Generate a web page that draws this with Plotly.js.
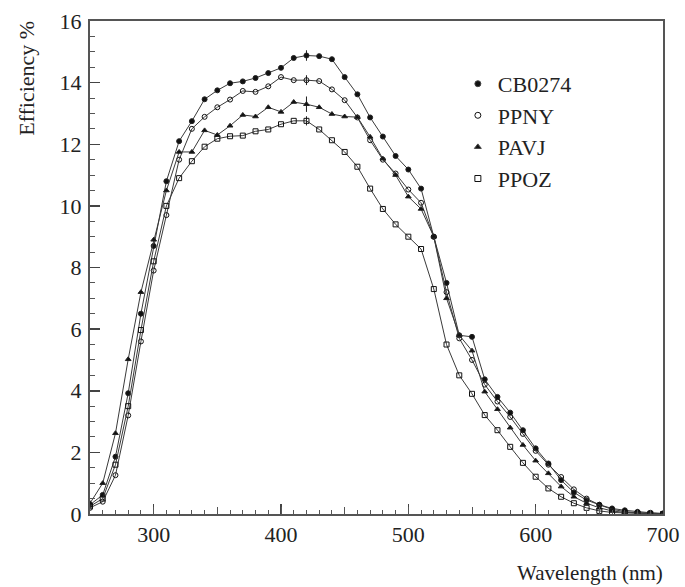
<!DOCTYPE html>
<html>
<head>
<meta charset="utf-8">
<script src="https://cdn.plot.ly/plotly-3.0.1.min.js"></script>
<style>html,body{margin:0;padding:0;background:#fff;}#chart{width:685px;height:587px;}</style>
</head>
<body>
<div id="chart"></div>
<script>
const wavelength = [250,260,270,280,290,300,310,320,330,340,350,360,370,380,390,400,410,420,430,440,450,460,470,480,490,500,510,520,530,540,550,560,570,580,590,600,610,620,630,640,650,660,670,680,690,700];
const seriesNames = ["CB0274","PPNY","PAVJ","PPOZ"];
const cb0274 = [0.3,0.62,1.86,3.92,6.5,8.7,10.8,12.1,12.75,13.46,13.75,13.98,14.04,14.15,14.31,14.48,14.8,14.88,14.86,14.76,14.18,13.62,12.87,12.25,11.62,11.18,10.56,9.0,7.5,5.8,5.75,4.37,3.8,3.29,2.72,2.13,1.64,1.1,0.7,0.45,0.3,0.18,0.12,0.07,0.04,0.02];
const ppny = [0.2,0.4,1.26,3.2,5.6,7.9,9.7,11.5,12.5,12.89,13.2,13.45,13.73,13.7,13.88,14.18,14.08,14.08,14.05,13.78,13.43,12.87,12.13,11.5,11.05,10.53,10.1,9.0,7.2,5.7,5.0,4.2,3.65,3.15,2.6,2.05,1.6,1.2,0.8,0.5,0.3,0.15,0.08,0.04,0.02,0.01];
const pavj = [0.35,1.0,2.62,5.02,7.2,8.9,10.5,11.75,11.75,12.45,12.3,12.6,12.95,12.9,13.2,13.05,13.37,13.3,13.2,12.98,12.9,12.88,12.24,11.53,11.0,10.3,9.9,9.0,7.0,5.8,5.3,3.97,3.4,2.8,2.24,1.73,1.32,0.89,0.56,0.35,0.2,0.1,0.05,0.03,0.02,0.01];
const ppoz = [0.25,0.5,1.6,3.5,5.97,8.2,10.0,10.9,11.45,11.92,12.18,12.26,12.28,12.42,12.48,12.65,12.76,12.76,12.48,12.13,11.75,11.27,10.56,9.9,9.4,9.0,8.6,7.3,5.5,4.5,3.9,3.21,2.72,2.18,1.66,1.21,0.83,0.56,0.35,0.2,0.1,0.05,0.03,0.02,0.01,0.0];
// error bar half-widths measured at 420 nm
const errAt420 = [0.17, 0.16, 0.25, 0.15];
const xTickVals = [300,400,500,600,700];
const yTickVals = [0,2,4,6,8,10,12,14,16];

const values = [cb0274, ppny, pavj, ppoz];
const symbols = ["circle","circle-open","triangle-up","square-open"];
const FONT = "Liberation Serif, Times New Roman, serif";

const traces = [];
values.forEach((v, i) => {
  traces.push({
    x: wavelength, y: v, type: "scatter", mode: "lines+markers",
    name: seriesNames[i], showlegend: false,
    line: {color: "#3a3a3a", width: 1},
    marker: {symbol: symbols[i], size: 5, color: "#111", line: {color: "#222", width: 1}},
    error_y: {type: "data", array: wavelength.map(w => w === 420 ? errAt420[i] : 0), visible: true, color: "#222", thickness: 1, width: 0}
  });
});
values.forEach((v, i) => {
  traces.push({
    x: [null], y: [null], type: "scatter", mode: "markers", name: seriesNames[i],
    marker: {symbol: symbols[i], size: 6, color: "#111", line: {color: "#444", width: 1}}
  });
});
// helper axis for mid (50 nm) ticks
traces.push({x: [null], y: [null], xaxis: "x2", yaxis: "y", type: "scatter", mode: "markers", showlegend: false, hoverinfo: "skip"});

const layout = {
  width: 685, height: 587,
  margin: {l: 90, r: 22, t: 21, b: 73},
  paper_bgcolor: "#fff", plot_bgcolor: "#fff",
  font: {family: FONT, size: 22, color: "#222"},
  showlegend: true,
  legend: {x: 0.642, y: 0.915, xanchor: "left", yanchor: "top", bgcolor: "rgba(0,0,0,0)", font: {family: FONT, size: 22, color: "#222"}, tracegroupgap: 0, itemsizing: "trace"},
  xaxis: {
    range: [250, 700], tickvals: xTickVals, ticks: "inside", ticklen: 10, tickwidth: 1.5, tickcolor: "#444",
    showline: true, linecolor: "#555", linewidth: 2, mirror: true, showgrid: false, zeroline: false,
    tickfont: {family: FONT, size: 22, color: "#222"},
    minor: {dtick: 10, ticks: "inside", ticklen: 4, tickwidth: 1, tickcolor: "#555", showgrid: false}
  },
  xaxis2: {
    range: [250, 700], overlaying: "x", anchor: "y", side: "bottom", dtick: 50, tick0: 250,
    ticks: "inside", ticklen: 7, tickwidth: 1, tickcolor: "#555", showticklabels: false,
    showline: false, showgrid: false, zeroline: false
  },
  yaxis: {
    range: [0, 16], tickvals: yTickVals, ticks: "inside", ticklen: 10, tickwidth: 1.5, tickcolor: "#444",
    showline: true, linecolor: "#555", linewidth: 2, mirror: true, showgrid: false, zeroline: false,
    tickfont: {family: FONT, size: 22, color: "#222"}, ticklabelstandoff: 2,
    minor: {dtick: 0.5, ticks: "inside", ticklen: 5, tickwidth: 1, tickcolor: "#555", showgrid: false}
  },
  annotations: [
    {text: "Wavelength (nm)", xref: "paper", yref: "paper", x: 1.004, y: -0.12, xanchor: "right", yanchor: "middle", showarrow: false, font: {family: FONT, size: 21, color: "#222"}},
    {text: "Efficiency %", xref: "paper", yref: "paper", x: -0.112, y: 1.005, xanchor: "center", yanchor: "top", textangle: -90, showarrow: false, font: {family: FONT, size: 22, color: "#222"}}
  ]
};
Plotly.newPlot("chart", traces, layout, {displayModeBar: false, staticPlot: true});
</script>
</body>
</html>
